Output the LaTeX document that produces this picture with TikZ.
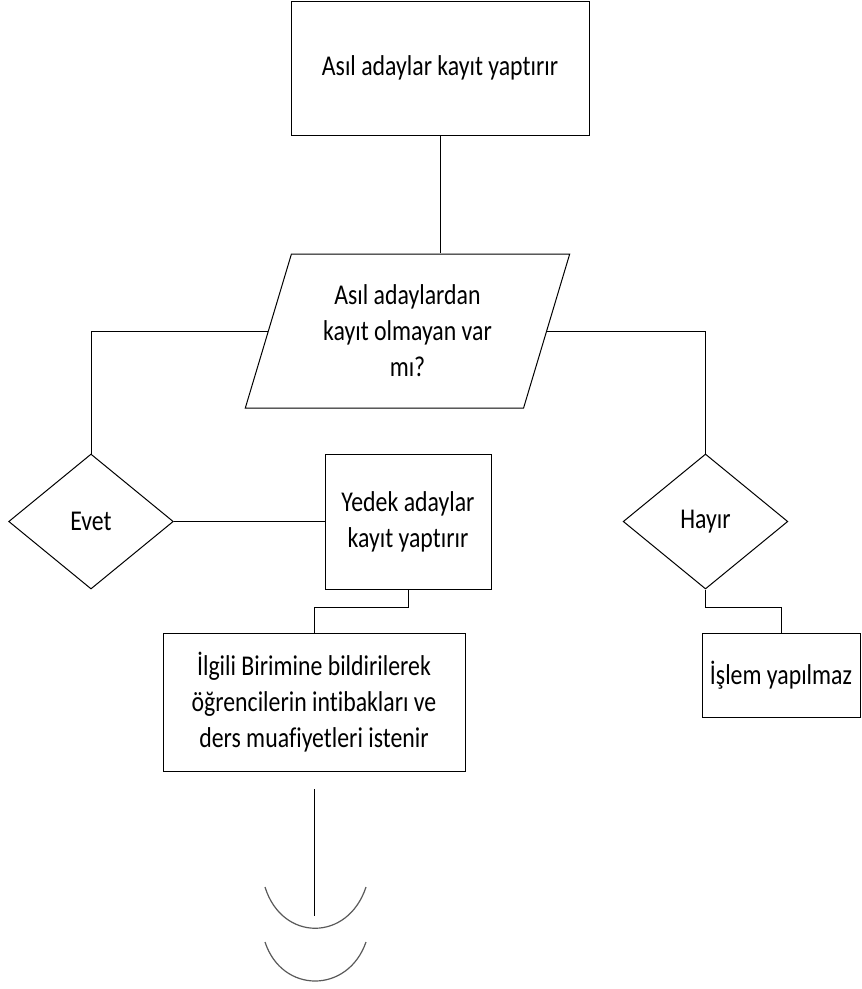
\documentclass[tikz,border=0pt]{standalone}
\usepackage{fontspec}
\setmainfont{Carlito}[Ligatures=CommonOff, FakeStretch=0.83]
\usetikzlibrary{shapes.geometric}

\begin{document}
\begin{tikzpicture}[x=0.75pt, y=-0.75pt, line width=0.75pt,
  every node/.style={font=\fontsize{21.5}{27}\selectfont, align=center, inner sep=0pt},
  kutu/.style={draw, rectangle},
  karar/.style={draw, diamond, minimum width=123.5pt, minimum height=101.25pt},
  giris/.style={draw, trapezium, trapezium left angle=70, trapezium right angle=110,
    trapezium stretches=true, minimum width=243.75pt, minimum height=115.5pt},
  ucgri/.style={draw=black!65, line width=0.9pt}]
  \useasboundingbox (0,0) rectangle (862,989);

  \node[kutu, minimum width=223.5pt, minimum height=100.5pt] (asil) at (440,68) {Asıl adaylar kayıt yaptırır};
  \node[giris] (soru) at (407.5,331) {Asıl adaylardan\\kayıt olmayan var\\mı?};
  \node[karar] (evet) at (91,521.5) {Evet};
  \node[kutu, minimum width=124.5pt, minimum height=101.25pt] (yedek) at (408,521.5) {Yedek adaylar\\kayıt yaptırır};
  \node[karar] (hayir) at (705.5,521.5) {Hayır};
  \node[kutu, minimum width=226.5pt, minimum height=103.5pt] (ilgili) at (314,702) {İlgili Birimine bildirilerek\\öğrencilerin intibakları ve\\ders muafiyetleri istenir};
  \node[kutu, minimum width=118.5pt, minimum height=63pt] (islem) at (781,675) {İşlem yapılmaz};

  % baglantilar
  \draw (asil.south) -- (asil.south |- soru.north);
  \draw (soru.west) -| (evet.north);
  \draw (soru.east) -| (hayir.north);
  \draw (evet.east) -- (yedek.west);
  \draw (yedek.south) -- ++(0,18) -| (ilgili.north);
  \draw (hayir.south) -- ++(0,18) -| (islem.north);

  % sayfa disi baglanti
  \coordinate (akisBas) at (314,789);
  \coordinate (akisSon) at (314,916);
  \draw (akisBas) -- (akisSon);
  \draw[ucgri] (265,887) .. controls (282,942) and (348,942) .. (366,887);
  \draw[ucgri] (265,942) .. controls (282,994) and (348,994) .. (366,942);
\end{tikzpicture}
\end{document}
